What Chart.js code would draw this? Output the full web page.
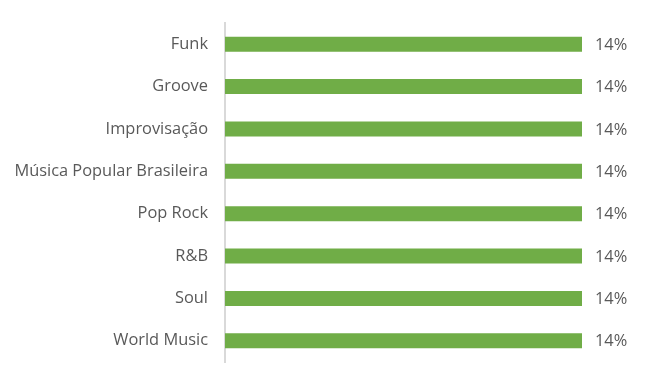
<!DOCTYPE html>
<html><head><meta charset="utf-8">
<script src="https://cdn.jsdelivr.net/npm/chart.js@4"></script>
<style>html,body{margin:0;padding:0;background:#fff}#w{width:649px;height:385px}</style>
</head><body><div id="w"><canvas id="c"></canvas></div>
<script>
const categories = ["Funk","Groove","Improvisação","Música Popular Brasileira","Pop Rock","R&B","Soul","World Music"];
const values = [14,14,14,14,14,14,14,14];
const valueLabels = ["14%","14%","14%","14%","14%","14%","14%","14%"];

const FONT = '"Open Sans", sans-serif';

const labelPlugin = {
  id: 'vals',
  afterDatasetsDraw(chart) {
    const ctx = chart.ctx;
    const meta = chart.getDatasetMeta(0);
    ctx.save();
    ctx.font = '16.4px ' + FONT;
    ctx.fillStyle = '#595959';
    ctx.textAlign = 'left';
    ctx.textBaseline = 'middle';
    meta.data.forEach((bar, i) => {
      ctx.fillText(valueLabels[i], bar.x + 13, bar.y + 1);
    });
    ctx.restore();
  }
};

new Chart(document.getElementById('c'), {
  type: 'bar',
  data: {
    labels: categories,
    datasets: [{
      data: values,
      backgroundColor: '#70ad47',
      barPercentage: 0.355,
      categoryPercentage: 1
    }]
  },
  options: {
    indexAxis: 'y',
    responsive: true,
    maintainAspectRatio: false,
    animation: false,
    layout: { padding: { top: 23, bottom: 23, right: 67, left: 0 } },
    plugins: { legend: { display: false }, tooltip: { enabled: false } },
    scales: {
      x: { display: false, min: 0, max: 14 },
      y: {
        afterFit(scale) { scale.width = 225; scale.paddingTop = 0; scale.paddingBottom = 0; },
        grid: { display: false, drawTicks: false },
        border: { color: '#d9d9d9', width: 2 },
        ticks: { color: '#595959', padding: 17, font: { family: FONT, size: 16.4 } }
      }
    }
  },
  plugins: [labelPlugin]
});
</script></body></html>
